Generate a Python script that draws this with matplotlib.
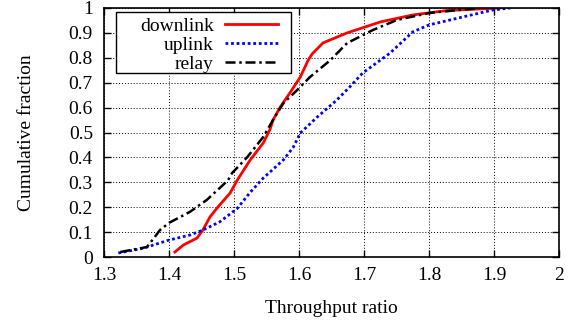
import matplotlib
matplotlib.use('Agg')
import matplotlib.pyplot as plt
from matplotlib.patches import Rectangle

# CDF curves
down_x = [1.409, 1.422, 1.443, 1.452, 1.463, 1.475, 1.494, 1.506, 1.525, 1.545, 1.555, 1.56,
          1.571, 1.586, 1.602, 1.614, 1.62, 1.637, 1.674, 1.725, 1.775, 1.828, 1.909]
down_y = [0.02, 0.048, 0.076, 0.108, 0.161, 0.20, 0.257, 0.313, 0.39, 0.458, 0.51, 0.55,
          0.602, 0.659, 0.723, 0.79, 0.815, 0.86, 0.90, 0.944, 0.972, 0.99, 1.0]

up_x = [1.322, 1.36, 1.40, 1.432, 1.452, 1.478, 1.505, 1.525, 1.545, 1.576, 1.591, 1.602,
        1.628, 1.658, 1.678, 1.698, 1.74, 1.775, 1.80, 1.852, 1.898, 1.925]
up_y = [0.016, 0.035, 0.068, 0.088, 0.108, 0.141, 0.195, 0.26, 0.317, 0.39, 0.44, 0.498,
        0.562, 0.63, 0.683, 0.739, 0.819, 0.904, 0.932, 0.964, 0.992, 1.0]

relay_x = [1.325, 1.366, 1.378, 1.386, 1.40, 1.432, 1.458, 1.478, 1.491, 1.497, 1.52, 1.545,
           1.56, 1.576, 1.597, 1.617, 1.648, 1.674, 1.714, 1.751, 1.80, 1.878]
relay_y = [0.02, 0.04, 0.08, 0.108, 0.137, 0.181, 0.229, 0.277, 0.309, 0.337, 0.40, 0.482,
           0.55, 0.618, 0.67, 0.723, 0.79, 0.859, 0.912, 0.952, 0.98, 1.0]

x_ticks = [1.3, 1.4, 1.5, 1.6, 1.7, 1.8, 1.9, 2.0]
x_labels = ['1.3', '1.4', '1.5', '1.6', '1.7', '1.8', '1.9', '2']
y_ticks = [0, 0.1, 0.2, 0.3, 0.4, 0.5, 0.6, 0.7, 0.8, 0.9, 1.0]
y_labels = ['0', '0.1', '0.2', '0.3', '0.4', '0.5', '0.6', '0.7', '0.8', '0.9', '1']

plt.rcParams['font.family'] = ['Liberation Serif', 'DejaVu Serif']
plt.rcParams['font.size'] = 14

fig = plt.figure(figsize=(5.82, 3.24), dpi=100)
ax = fig.add_axes([104 / 582, 1 - 257 / 324, 455 / 582, 249 / 324])

ax.plot(down_x, down_y, color='#ff0000', lw=2, label='downlink')
ax.plot(up_x, up_y, color='#0000ff', lw=2, ls=(0, (1, 1)), label='uplink')
ax.plot(relay_x, relay_y, color='black', lw=1.8, ls=(0, (4, 1.5, 1, 1.5)), label='relay')

ax.set_xlim(1.3, 2.0)
ax.set_ylim(0, 1)
ax.set_xticks(x_ticks)
ax.set_xticklabels(x_labels)
ax.set_yticks(y_ticks)
ax.set_yticklabels(y_labels)
ax.tick_params(direction='in', top=True, right=True, length=5, width=1)
ax.tick_params(axis='x', pad=7)
ax.tick_params(axis='y', pad=8)
ax.grid(True, color='black', ls=(0, (1, 2)), lw=0.7)
for s in ax.spines.values():
    s.set_linewidth(1.2)

ax.set_xlabel('Throughput ratio', labelpad=12)
ax.set_ylabel('Cumulative fraction', labelpad=24)

# legend box drawn by hand (gnuplot style: wide left margin)
box = Rectangle((0.0264, 0.739), 0.385, 0.245, transform=ax.transAxes,
                facecolor='white', edgecolor='black', lw=1, zorder=4.9, clip_on=False)
ax.add_patch(box)
leg = ax.legend(loc='upper right', markerfirst=False, frameon=False, borderpad=0,
                labelspacing=0.07, handlelength=2.7, handletextpad=0.6, borderaxespad=0,
                bbox_to_anchor=(0.382, 0.962))

fig.savefig('out.png', dpi=100)
